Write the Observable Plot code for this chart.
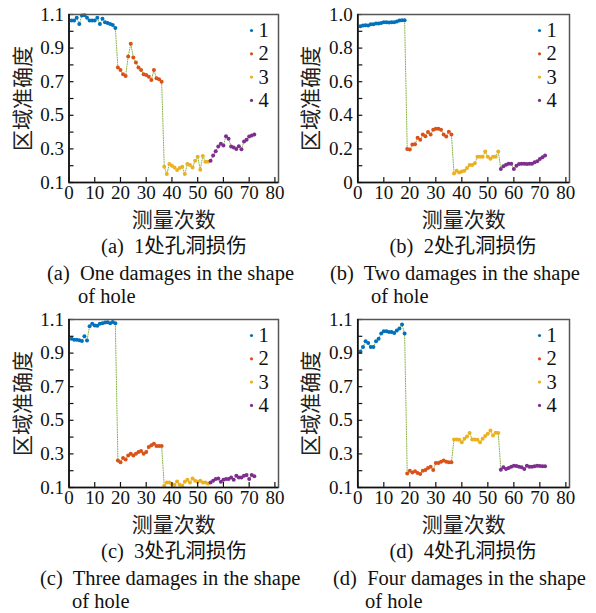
<!DOCTYPE html>
<html><head><meta charset="utf-8">
<script src="https://cdn.jsdelivr.net/npm/d3@7"></script>
<script src="https://cdn.jsdelivr.net/npm/@observablehq/plot@0.6"></script>
<style>
body{margin:0;background:#fff;}
#fig{position:relative;width:596px;height:613px;overflow:hidden;background:#fff;}
.panel{position:absolute;}
.cap{position:absolute;font-family:"Liberation Serif","Noto Sans CJK SC",serif;font-size:20.5px;white-space:nowrap;color:#111;line-height:1;}
</style></head><body><div id="fig"></div>
<script>
// ---- data ----
const seriesNames = ["1", "2", "3", "4"];
const seriesColors = ["#0072BD", "#D95319", "#EDB120", "#7E2F8E"];
const lineColor = "#77AC30";
const pointsPerSeries = 18;

const A1 = [1.064,1.064,1.08,1.044,1.094,1.096,1.08,1.064,1.064,1.064,1.08,1.044,1.074,1.054,1.05,1.044,1.038,1.02];
const A2 = [0.784,0.77,0.744,0.734,0.85,0.926,0.844,0.814,0.784,0.77,0.744,0.74,0.73,0.71,0.77,0.72,0.715,0.70];
const A3 = [0.194,0.15,0.21,0.2,0.19,0.174,0.186,0.194,0.15,0.21,0.204,0.19,0.23,0.254,0.176,0.258,0.224,0.224];
const A4 = [0.23,0.26,0.286,0.314,0.33,0.32,0.376,0.36,0.314,0.308,0.30,0.316,0.298,0.344,0.354,0.374,0.38,0.386];

const B1 = [0.93,0.934,0.936,0.934,0.942,0.942,0.946,0.946,0.95,0.954,0.954,0.952,0.954,0.954,0.958,0.964,0.966,0.966];
const B2 = [0.20,0.196,0.226,0.228,0.266,0.254,0.286,0.276,0.30,0.286,0.314,0.32,0.32,0.314,0.286,0.274,0.302,0.286];
const B3 = [0.054,0.07,0.06,0.066,0.07,0.086,0.104,0.104,0.114,0.154,0.154,0.154,0.184,0.154,0.142,0.154,0.154,0.184];
const B4 = [0.08,0.096,0.106,0.112,0.112,0.08,0.10,0.11,0.112,0.112,0.11,0.112,0.112,0.12,0.126,0.14,0.15,0.16];

const C1 = [0.985,0.98,0.98,0.977,0.972,1.0,0.975,1.06,1.075,1.065,1.063,1.075,1.078,1.082,1.083,1.078,1.085,1.078];
const C2 = [0.261,0.251,0.275,0.267,0.291,0.301,0.291,0.301,0.311,0.317,0.301,0.311,0.341,0.351,0.361,0.347,0.347,0.347];
const C3 = [0.11,0.13,0.13,0.12,0.115,0.136,0.116,0.11,0.134,0.146,0.13,0.154,0.14,0.134,0.14,0.13,0.13,0.124];
const C4 = [0.13,0.14,0.15,0.154,0.134,0.146,0.15,0.15,0.16,0.146,0.17,0.16,0.16,0.17,0.175,0.15,0.175,0.167];

const D1 = [0.91,0.936,0.97,0.96,0.936,0.936,0.97,0.986,1.016,1.03,1.03,1.026,1.026,1.02,1.034,1.046,1.07,1.016];
const D2 = [0.184,0.20,0.19,0.196,0.186,0.18,0.20,0.204,0.216,0.224,0.204,0.246,0.246,0.254,0.26,0.254,0.25,0.25];
const D3 = [0.386,0.386,0.384,0.37,0.39,0.404,0.424,0.386,0.386,0.384,0.37,0.39,0.406,0.42,0.44,0.41,0.426,0.424];
const D4 = [0.206,0.22,0.21,0.216,0.224,0.23,0.228,0.224,0.22,0.21,0.23,0.224,0.224,0.226,0.23,0.228,0.226,0.226];

const xTicks = [0, 10, 20, 30, 40, 50, 60, 70, 80];
const yTicksA = [0.1, 0.3, 0.5, 0.7, 0.9, 1.1];
const yMinorA = [0.1, 0.2, 0.3, 0.4, 0.5, 0.6, 0.7, 0.8, 0.9, 1.0, 1.1];
const yTicksB = [0, 0.2, 0.4, 0.6, 0.8, 1.0];
const yMinorB = [0, 0.1, 0.2, 0.3, 0.4, 0.5, 0.6, 0.7, 0.8, 0.9, 1.0];

const yTitle = "区域准确度";
const xTitle = "测量次数";

const captions = [
  ["(a)\u00a0 1处孔洞损伤", "(a)\u00a0 One damages in the shape", "of hole"],
  ["(b)\u00a0 2处孔洞损伤", "(b)\u00a0 Two damages in the shape", "of hole"],
  ["(c)\u00a0 3处孔洞损伤", "(c)\u00a0 Three damages in the shape", "of hole"],
  ["(d)\u00a0 4处孔洞损伤", "(d)\u00a0 Four damages in the shape", "of hole"]
];

// ---- layout ----
const W = 298, H = 232, MT = 14, MB = 50;
const latin = "'Liberation Serif', 'Times New Roman', serif";
const cjk = "'Noto Sans CJK SC', sans-serif";

const panels = [
  {series:[A1,A2,A3,A4], left:0, top:0, ml:68.5, mr:20, yDomain:[0.1,1.1], yTicks:yTicksA, yMinor:yMinorA, fmt:d=>d.toFixed(1), ytdx:-46, legDx:-27},
  {series:[B1,B2,B3,B4], left:298, top:0, ml:59.3, mr:27, yDomain:[0,1.0], yTicks:yTicksB, yMinor:yMinorB, fmt:d=>d===0?"0":d.toFixed(1), ytdx:-47, legDx:-30},
  {series:[C1,C2,C3,C4], left:0, top:305, ml:68.5, mr:20, yDomain:[0.1,1.1], yTicks:yTicksA, yMinor:yMinorA, fmt:d=>d.toFixed(1), ytdx:-46, legDx:-27},
  {series:[D1,D2,D3,D4], left:298, top:305, ml:59.3, mr:27, yDomain:[0.1,1.1], yTicks:yTicksA, yMinor:yMinorA, fmt:d=>d.toFixed(1), ytdx:-47, legDx:-30}
];

const capLayout = [
  {c1:174, l2:47, l3:78, y:0},
  {c1:463, l2:330, l3:371, y:0},
  {c1:174, l2:40, l3:72, y:305},
  {c1:463, l2:333, l3:365, y:305}
];

const fig = document.getElementById("fig");

panels.forEach((p, pi) => {
  const data = [];
  p.series.forEach((vals, k) => vals.forEach((v, i) => data.push({n: k * pointsPerSeries + i + 1, v, s: seriesNames[k]})));
  const plotW = W - p.ml - p.mr, plotH = H - MT - MB;
  const legendMarks = [];
  seriesNames.forEach((s, k) => {
    legendMarks.push(Plot.dot([s], {frameAnchor:"top-right", dx:p.legDx, dy:16 + 23.3*k, r:1.6, fill:d=>d}));
    legendMarks.push(Plot.text([s], {frameAnchor:"top-right", dx:p.legDx + 7, dy:16 + 23.3*k, text:d=>d, textAnchor:"start", lineAnchor:"middle", fontSize:20.5, fontFamily:latin, fill:"#111"}));
  });
  const chart = Plot.plot({
    width: W, height: H,
    marginLeft: p.ml, marginRight: p.mr, marginTop: MT, marginBottom: MB,
    x: {domain: [0, 81.4]},
    y: {domain: p.yDomain},
    color: {domain: seriesNames, range: seriesColors},
    style: {fontFamily: latin, background: "white", overflow: "visible", color: "#111"},
    marks: [
      Plot.line(data, {x:"n", y:"v", stroke: lineColor, strokeWidth: 0.9, strokeDasharray: "1 1.4"}),
      Plot.dot(data, {x:"n", y:"v", r: 2, fill: "s"}),
      Plot.tickY(p.yMinor, {y: d=>d, stroke:"#111", strokeWidth:1.2, insetRight: plotW - 5}),
      Plot.tickX(xTicks, {x: d=>d, stroke:"#111", strokeWidth:1.2, insetTop: plotH - 5}),
      Plot.frame({stroke:"#555", strokeWidth:1.5}),
      Plot.ruleY([p.yDomain[0]], {stroke:"#111", strokeWidth:1.7}),
      Plot.ruleX([0], {stroke:"#111", strokeWidth:1.7}),
      Plot.axisY(p.yTicks, {anchor:"left", tickSize:0, tickPadding:5, fontSize:19, label:null, tickFormat:p.fmt, fill:"#111"}),
      Plot.axisX(xTicks, {anchor:"bottom", tickSize:0, tickPadding:3, fontSize:19, label:null, fill:"#111"}),
      Plot.text([yTitle], {frameAnchor:"left", dx:p.ytdx, rotate:-90, textAnchor:"middle", lineAnchor:"middle", fontSize:21, fontFamily:cjk, fill:"#222"}),
      Plot.text([xTitle], {frameAnchor:"bottom", dy:38, textAnchor:"middle", lineAnchor:"middle", fontSize:21, fontFamily:cjk, fill:"#222"}),
      ...legendMarks
    ]
  });
  const wrap = document.createElement("div");
  wrap.className = "panel";
  wrap.style.left = p.left + "px";
  wrap.style.top = p.top + "px";
  wrap.appendChild(chart);
  fig.appendChild(wrap);

  const cl = capLayout[pi];
  const t = captions[pi];
  const l1 = document.createElement("div");
  l1.className = "cap"; l1.textContent = t[0];
  l1.style.left = cl.c1 + "px"; l1.style.top = (cl.y + 236) + "px"; l1.style.transform = "translateX(-50%)";
  const l2 = document.createElement("div");
  l2.className = "cap"; l2.textContent = t[1];
  l2.style.left = cl.l2 + "px"; l2.style.top = (cl.y + 263) + "px";
  const l3 = document.createElement("div");
  l3.className = "cap"; l3.textContent = t[2];
  l3.style.left = cl.l3 + "px"; l3.style.top = (cl.y + 286) + "px";
  fig.appendChild(l1); fig.appendChild(l2); fig.appendChild(l3);
});
</script></body></html>
